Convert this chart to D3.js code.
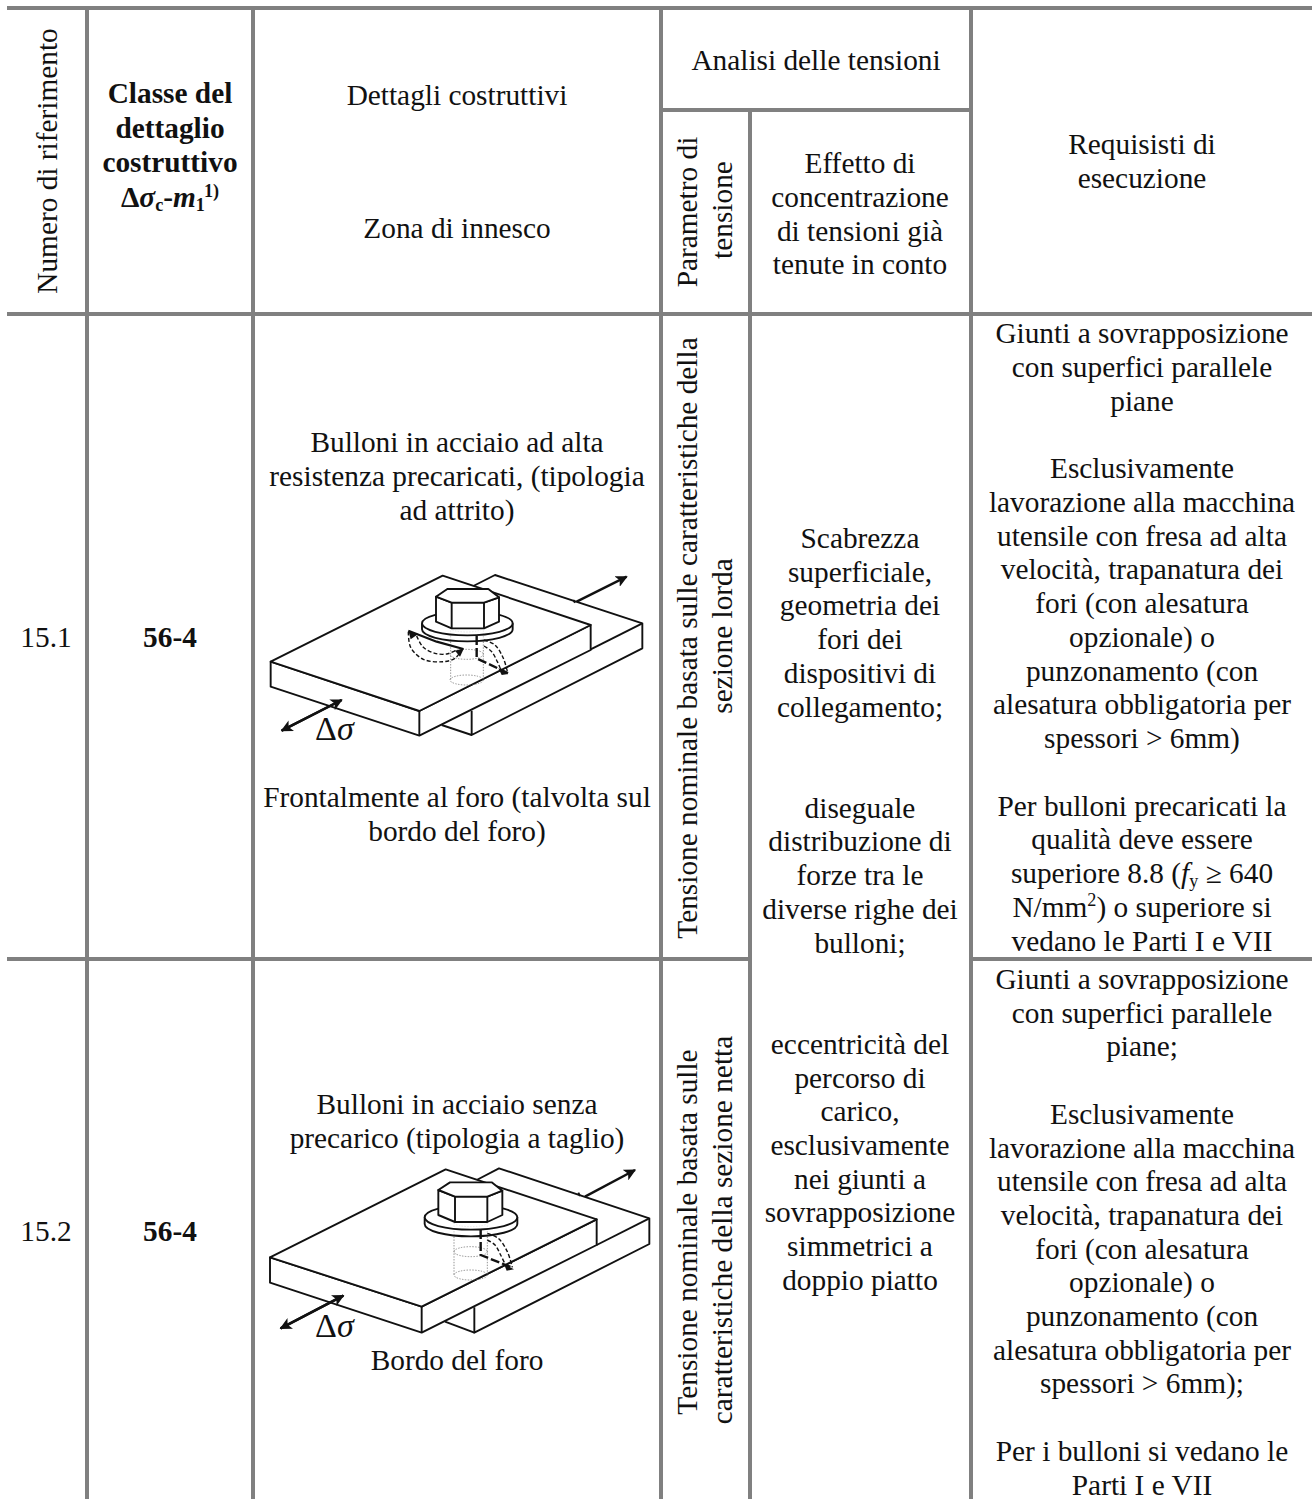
<!DOCTYPE html>
<html><head><meta charset="utf-8">
<script src="https://cdn.jsdelivr.net/npm/d3@7"></script>
<style>
html,body{margin:0;padding:0;background:#fff;overflow:hidden}
svg{display:block}
text{font-family:"Liberation Serif","Times New Roman",serif;font-size:29.33px;fill:#111;text-anchor:middle}
</style></head><body>
<script>
const WIDTH = 1312, HEIGHT = 1499;

/* ---------- table structure ---------- */
const verticalRules = [{x:87,y0:6},{x:253,y0:6},{x:661,y0:6},{x:750,y0:110},{x:971,y0:6}];
const horizontalRules = [
  {y: 8,   from: 7,   to: 1312},
  {y: 110, from: 659, to: 973},
  {y: 314, from: 7,   to: 1312},
  {y: 959, from: 7,   to: 752},
  {y: 959, from: 969, to: 1312}
];

/* ---------- texts ---------- */
const classHeader = ["Classe del", "dettaglio", "costruttivo", "Δ<i>σ</i><sub>c</sub>-<i>m</i><sub>1</sub><sup>1)</sup>"];
const detailHeader1 = ["Dettagli costruttivi"];
const detailHeader2 = ["Zona di innesco"];
const stressHeader = ["Analisi delle tensioni"];
const effectHeader = ["Effetto di", "concentrazione", "di tensioni già", "tenute in conto"];
const reqHeader = ["Requisisti di", "esecuzione"];
const refNumbers = ["15.1", "15.2"];
const classValues = ["56-4", "56-4"];
const detail1Top = ["Bulloni in acciaio ad alta", "resistenza precaricati, (tipologia", "ad attrito)"];
const detail1Bottom = ["Frontalmente al foro (talvolta sul", "bordo del foro)"];
const detail2Top = ["Bulloni in acciaio senza", "precarico (tipologia a taglio)"];
const detail2Bottom = ["Bordo del foro"];
const effectBody = ["Scabrezza", "superficiale,", "geometria dei", "fori dei", "dispositivi di", "collegamento;", "", "",
  "diseguale", "distribuzione di", "forze tra le", "diverse righe dei", "bulloni;", "", "",
  "eccentricità del", "percorso di", "carico,", "esclusivamente", "nei giunti a", "sovrapposizione", "simmetrici a", "doppio piatto"];
const req1 = ["Giunti a sovrapposizione", "con superfici parallele", "piane", "",
  "Esclusivamente", "lavorazione alla macchina", "utensile con fresa ad alta", "velocità, trapanatura dei", "fori (con alesatura", "opzionale) o", "punzonamento (con", "alesatura obbligatoria per", "spessori &gt; 6mm)", "",
  "Per bulloni precaricati la", "qualità deve essere", "superiore 8.8 (<i>f</i><sub>y</sub> ≥ 640", "N/mm<sup>2</sup>) o superiore si", "vedano le Parti I e VII"];
const req2 = ["Giunti a sovrapposizione", "con superfici parallele", "piane;", "",
  "Esclusivamente", "lavorazione alla macchina", "utensile con fresa ad alta", "velocità, trapanatura dei", "fori (con alesatura", "opzionale) o", "punzonamento (con", "alesatura obbligatoria per", "spessori &gt; 6mm);", "",
  "Per i bulloni si vedano le", "Parti I e VII"];

/* rotated texts */
const rotRef = ["Numero di riferimento"];
const rotParam = ["Parametro di", "tensione"];
const rotGross = ["Tensione nominale basata sulle caratteristiche della", "sezione lorda"];
const rotNet = ["Tensione nominale basata sulle", "caratteristiche della sezione netta"];

/* ---------- drawings, in sketch units ---------- */
const plateLines1 = [
  [[640,78],[705,45],[1147,190],[1147,265],[635,525],[635,452]],
  [[1147,190],[992,268]],
  [[545,495],[635,525]],
  [[940,120],[945,128]]
];
const plateTop1 = [[32,305],[548,47],[992,195],[478,453]];
const plateSide1 = [[32,305],[478,453],[992,195],[992,270],[478,527],[32,380]];
const plateEdges1 = [[[478,453],[478,527]]];
const hexTop1 = [[528,110],[562,87],[685,87],[717,112],[672,128],[575,128]];
const hexSide1 = [[528,110],[575,128],[672,128],[717,112],[717,185],[672,205],[575,205],[528,185]];
const hexEdges1 = [[[575,128],[575,205]],[[672,128],[672,205]]];
const washer1 = {cx:622, cy:190, rx:136, ry:36, t:18};
const holeEllipses1 = [{cx:620,cy:203,rx:50,ry:13},{cx:620,cy:283,rx:50,ry:15},{cx:620,cy:360,rx:50,ry:15}];
const holeSides1 = [[[572,203],[572,360]],[[670,203],[670,360]]];
const crackDash1 = [
  [[445,215],[452,262],[490,298],[550,305],[585,295],[605,270]],
  [[470,228],[490,262],[525,280],[560,282],[590,270]],
  [[672,240],[705,255],[730,295],[743,338]],
  [[672,258],[695,275],[712,305],[722,328]]
];
const crackSolid1 = [[[445,212],[530,245],[610,267]]];
const crackThickDash1 = [[[650,228],[650,295],[745,340]]];
const crackHeads1 = [[[445,212],[475,222],[452,238]],[[612,265],[585,272],[600,290]],[[745,342],[715,325],[725,345]]];
const arrowsOut1 = [
  [[950,125],[1100,50]],
  [[65,512],[245,420]]
];
const arrowBack1 = [[245,420],[65,512]];
const deltaPos1 = [165,540];

const plateLines2 = [
  [[650,90],[717,55],[1168,205],[1168,282],[643,548],[643,472]],
  [[1168,205],[1010,285]],
  [[555,515],[643,548]],
  [[955,128],[960,138]]
];
const plateTop2 = [[30,322],[557,58],[1010,208],[485,470]];
const plateSide2 = [[30,322],[485,470],[1010,208],[1010,285],[485,548],[30,398]];
const plateEdges2 = [[[485,470],[485,548]]];
const hexTop2 = [[535,120],[570,97],[695,97],[727,122],[682,140],[585,140]];
const hexSide2 = [[535,120],[585,140],[682,140],[727,122],[727,195],[682,216],[585,216],[535,195]];
const hexEdges2 = [[[585,140],[585,216]],[[682,140],[682,216]]];
const washer2 = {cx:633, cy:202, rx:139, ry:37, t:20};
const holeEllipses2 = [{cx:632,cy:218,rx:50,ry:12},{cx:632,cy:305,rx:50,ry:15},{cx:632,cy:375,rx:50,ry:15}];
const holeSides2 = [[[582,218],[582,375]],[[682,218],[682,375]]];
const crackDash2 = [
  [[682,250],[715,265],[742,305],[757,352]],
  [[682,270],[705,285],[722,315],[735,342]]
];
const crackSolid2 = [];
const crackThickDash2 = [[[662,240],[662,315],[755,352]]];
const crackHeads2 = [[[762,358],[732,342],[740,362]]];
const arrowsOut2 = [
  [[975,140],[1125,60]],
  [[62,535],[250,437]]
];
const arrowBack2 = [[250,437],[62,535]];
const deltaPos2 = [165,562];

/* ---------- drawing ---------- */
const svg = d3.select("body").append("svg").attr("width", WIDTH).attr("height", HEIGHT)
  .attr("viewBox", `0 0 ${WIDTH} ${HEIGHT}`);
svg.append("rect").attr("width", WIDTH).attr("height", HEIGHT).attr("fill", "#fff");

const defs = svg.append("defs");
defs.append("marker").attr("id","head").attr("viewBox","0 0 10 10").attr("refX",9).attr("refY",5)
  .attr("markerWidth",5).attr("markerHeight",5).attr("orient","auto-start-reverse")
  .append("path").attr("d","M0,0L10,5L0,10L2.5,5Z").attr("fill","#111");

const grey = "#808080";
const rules = svg.append("g");
rules.selectAll("rect.v").data(verticalRules).join("rect").attr("class","v")
  .attr("x", d => d.x-2).attr("y", d => d.y0).attr("width", 4).attr("height", d => HEIGHT-d.y0).attr("fill", grey);
rules.selectAll("rect.h").data(horizontalRules).join("rect").attr("class","h")
  .attr("x", d => d.from).attr("y", d => d.y-2).attr("width", d => d.to-d.from).attr("height", 4).attr("fill", grey);

function rich(sel, html, size) {
  const parts = html.split(/(<\/?(?:i|sub|sup)>)/).filter(s => s !== "");
  let ital = false, mode = null, cur = 0;
  parts.forEach(p => {
    if (p === "<i>") { ital = true; return; }
    if (p === "</i>") { ital = false; return; }
    if (p === "<sub>") { mode = "sub"; return; }
    if (p === "<sup>") { mode = "sup"; return; }
    if (p === "</sub>" || p === "</sup>") { mode = null; return; }
    const target = mode === "sub" ? size*0.14 : mode === "sup" ? -size*0.36 : 0;
    const t = sel.append("tspan").text(p.replace(/&gt;/g, ">"));
    if (ital) t.attr("font-style","italic");
    if (mode) t.style("font-size", (size*0.62)+"px");
    if (target !== cur) t.attr("dy", target-cur);
    cur = target;
  });
}
function block(lines, x, y0, step, opt={}) {
  const size = opt.size || 29.33;
  const yScale = d3.scaleLinear().domain([0,1]).range([y0+1, y0+1+step]);
  const g = svg.append("g");
  g.selectAll("text").data(lines.map((l,i)=>({l,i})).filter(d=>d.l!=="")).join("text")
    .attr("x", x).attr("y", d => yScale(d.i))
    .style("font-size", size+"px")
    .attr("font-weight", opt.bold ? "bold" : null)
    .each(function(d){ rich(d3.select(this), d.l, size); });
}
function rotated(lines, xs, cys) {
  const g = svg.append("g");
  g.selectAll("text").data(lines).join("text")
    .attr("transform", (d,i) => `translate(${xs[i]},${cys[i]}) rotate(-90)`)
    .text(d => d);
}
const STEP = 33.76;

block(classHeader, 170, 102, 34.7, {bold:true});
block(detailHeader1, 457, 104, STEP);
block(detailHeader2, 457, 237, STEP);
block(stressHeader, 816, 69, STEP);
block(effectHeader, 860, 172, STEP);
block(reqHeader, 1142, 153, STEP);
block([refNumbers[0]], 46, 646, STEP);
block([refNumbers[1]], 46, 1240, STEP);
block([classValues[0]], 170, 646, STEP, {bold:true});
block([classValues[1]], 170, 1240, STEP, {bold:true});
block(detail1Top, 457, 451, STEP);
block(detail1Bottom, 457, 806, STEP);
block(detail2Top, 457, 1113, STEP);
block(detail2Bottom, 457, 1369, STEP);
block(effectBody, 860, 547, 33.72);
block(req1, 1142, 342, STEP);
block(req2, 1142, 988, 33.7);

rotated(rotRef, [57], [161]);
rotated(rotParam, [697,732], [212,210]);
rotated(rotGross, [697,732], [638,636]);
rotated(rotNet, [697,732], [1232,1230]);

function diagram(x0, y0, d) {
  const sx = d3.scaleLinear().domain([0,1170]).range([x0, x0+390]);
  const sy = d3.scaleLinear().domain([0,600]).range([y0, y0+200]);
  const line = d3.line().x(p=>sx(p[0])).y(p=>sy(p[1]));
  const curve = d3.line().x(p=>sx(p[0])).y(p=>sy(p[1])).curve(d3.curveCatmullRom);
  const g = svg.append("g").attr("fill","none").attr("stroke","#111").attr("stroke-linejoin","round");
  const sw = 1.9;
  g.selectAll("path.pl").data(d.plateLines).join("path").attr("class","pl").attr("d",line).attr("stroke-width",sw);
  g.append("path").attr("d",line(d.plateSide)+"Z").attr("fill","#fff").attr("stroke-width",sw);
  g.append("path").attr("d",line(d.plateTop)+"Z").attr("fill","#fff").attr("stroke-width",sw);
  g.selectAll("path.pe").data(d.plateEdges).join("path").attr("class","pe").attr("d",line).attr("stroke-width",sw);
  // hidden hole
  g.selectAll("ellipse.h").data(d.holeEllipses).join("ellipse").attr("class","h")
    .attr("cx",e=>sx(e.cx)).attr("cy",e=>sy(e.cy)).attr("rx",e=>sx(e.rx)-sx(0)).attr("ry",e=>sy(e.ry)-sy(0))
    .attr("stroke","#666").attr("stroke-width",0.7).attr("stroke-dasharray","1.4 1.4");
  g.selectAll("path.hs").data(d.holeSides).join("path").attr("class","hs").attr("d",line)
    .attr("stroke","#666").attr("stroke-width",0.7).attr("stroke-dasharray","1.4 1.4");
  // washer
  const w = d.washer;
  const rx = sx(w.rx)-sx(0), ry = sy(w.ry)-sy(0), t = sy(w.t)-sy(0), cx = sx(w.cx), cy = sy(w.cy);
  g.append("path").attr("d",`M${cx-rx},${cy} v${t} A${rx},${ry} 0 0 0 ${cx+rx},${cy+t} v${-t}`)
    .attr("fill","#fff").attr("fill-opacity",0.55).attr("stroke-width",sw);
  g.append("ellipse").attr("cx",cx).attr("cy",cy).attr("rx",rx).attr("ry",ry).attr("fill","#fff").attr("fill-opacity",0.55).attr("stroke-width",sw);
  // hex bolt
  g.append("path").attr("d",line(d.hexSide)+"Z").attr("fill","#fff").attr("stroke-width",sw);
  g.append("path").attr("d",line(d.hexTop)+"Z").attr("fill","#fff").attr("stroke-width",sw);
  g.selectAll("path.he").data(d.hexEdges).join("path").attr("class","he").attr("d",line).attr("stroke-width",sw);
  // crack
  g.selectAll("path.cd").data(d.crackDash).join("path").attr("class","cd").attr("d",curve)
    .attr("stroke-width",1.4).attr("stroke-dasharray","4 2.2");
  g.selectAll("path.cs").data(d.crackSolid).join("path").attr("class","cs").attr("d",line).attr("stroke-width",2.2);
  g.selectAll("path.ct").data(d.crackThickDash).join("path").attr("class","ct").attr("d",line)
    .attr("stroke-width",2.4).attr("stroke-dasharray","9 3");
  g.selectAll("path.chd").data(d.crackHeads).join("path").attr("class","chd").attr("d",p=>line(p)+"Z").attr("fill","#111").attr("stroke","none");
  // load arrows
  g.selectAll("path.ar").data(d.arrows).join("path").attr("class","ar").attr("d",line)
    .attr("stroke-width",2.4).attr("marker-end","url(#head)");
  g.append("path").attr("d",line(d.arrowBack)).attr("stroke-width",2.4).attr("marker-end","url(#head)");
  // delta sigma
  const tx = svg.append("text").attr("x",sx(d.delta[0])).attr("y",sy(d.delta[1])).style("text-anchor","start").style("font-size","34px");
  tx.append("tspan").text("Δ");
  tx.append("tspan").attr("font-style","italic").text("σ");
}
diagram(260,560,{plateLines:plateLines1,plateTop:plateTop1,plateSide:plateSide1,plateEdges:plateEdges1,hexTop:hexTop1,hexSide:hexSide1,hexEdges:hexEdges1,washer:washer1,holeEllipses:holeEllipses1,holeSides:holeSides1,crackDash:crackDash1,crackSolid:crackSolid1,crackThickDash:crackThickDash1,crackHeads:crackHeads1,arrows:arrowsOut1,arrowBack:arrowBack1,delta:deltaPos1});
diagram(260,1150,{plateLines:plateLines2,plateTop:plateTop2,plateSide:plateSide2,plateEdges:plateEdges2,hexTop:hexTop2,hexSide:hexSide2,hexEdges:hexEdges2,washer:washer2,holeEllipses:holeEllipses2,holeSides:holeSides2,crackDash:crackDash2,crackSolid:crackSolid2,crackThickDash:crackThickDash2,crackHeads:crackHeads2,arrows:arrowsOut2,arrowBack:arrowBack2,delta:deltaPos2});
</script>
</body></html>
